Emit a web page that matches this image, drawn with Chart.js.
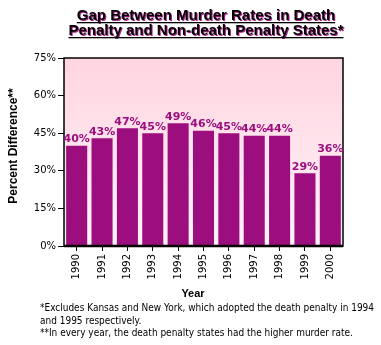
<!DOCTYPE html>
<html>
<head>
<meta charset="utf-8">
<script src="https://cdn.jsdelivr.net/npm/chart.js@4"></script>
<style>
  html, body { margin: 0; padding: 0; background: #fff; }
  #wrap { position: relative; width: 381px; height: 345px; }
</style>
</head>
<body>
<div id="wrap"><canvas id="myChart" width="381" height="345"></canvas></div>
<script>
const years = ["1990", "1991", "1992", "1993", "1994", "1995", "1996", "1997", "1998", "1999", "2000"];
const gapPercent = [40, 43, 47, 45, 49, 46, 45, 44, 44, 29, 36];
const yTicks = [0, 15, 30, 45, 60, 75];

const titleLines = ["Gap Between Murder Rates in Death", "Penalty and Non-death Penalty States*"];
const notes = [
  "*Excludes Kansas and New York, which adopted the death penalty in 1994",
  "and 1995 respectively.",
  "**In every year, the death penalty states had the higher murder rate.",
];

const barColor = "#9C0E7E";

// draw text squeezed horizontally by factor s
function squeezeText(ctx, text, x, y, s) {
  ctx.save();
  ctx.translate(x, y);
  ctx.scale(s, 1);
  ctx.fillText(text, 0, 0);
  ctx.restore();
}

// pink wash behind the bars plus the black frame
const plotBg = {
  id: "plotBg",
  beforeDatasetsDraw(chart) {
    const { ctx, chartArea: a } = chart;
    const g = ctx.createLinearGradient(0, a.top, 0, a.bottom);
    g.addColorStop(0, "#FFD5E1");
    g.addColorStop(1, "#FFF3F8");
    ctx.save();
    ctx.fillStyle = g;
    ctx.fillRect(a.left, a.top, a.right - a.left, a.bottom - a.top);
    ctx.restore();
  },
  afterDatasetsDraw(chart) {
    const { ctx, chartArea: a } = chart;
    ctx.save();
    ctx.strokeStyle = "#000";
    ctx.lineWidth = 1.5;
    ctx.strokeRect(a.left, a.top, a.right - a.left, a.bottom - a.top);
    ctx.lineWidth = 2.5;
    ctx.beginPath();
    ctx.moveTo(a.left, a.bottom);
    ctx.lineTo(a.right, a.bottom);
    ctx.stroke();
    ctx.restore();
  },
};

// value labels on top of each bar
const barLabels = {
  id: "barLabels",
  afterDatasetsDraw(chart) {
    const { ctx } = chart;
    const meta = chart.getDatasetMeta(0);
    ctx.save();
    ctx.font = "bold 11px Verdana, 'DejaVu Sans', sans-serif";
    ctx.fillStyle = barColor;
    ctx.textAlign = "center";
    ctx.textBaseline = "bottom";
    meta.data.forEach((bar, i) => {
      ctx.fillText(gapPercent[i] + "%", bar.x, bar.y - 1);
    });
    ctx.restore();
  },
};

// headline, axis titles and footnotes
const texts = {
  id: "texts",
  afterDraw(chart) {
    const { ctx } = chart;
    ctx.save();
    ctx.font = "bold 15px Arial, 'Liberation Sans', sans-serif";
    ctx.textAlign = "center";
    ctx.textBaseline = "alphabetic";
    const cx = 206;
    titleLines.forEach((t, i) => {
      const y = 20 + i * 15;
      ctx.fillStyle = "#B0208F";
      ctx.fillText(t, cx + 1, y + 1);
      ctx.fillStyle = "#000";
      ctx.fillText(t, cx, y);
      const w = ctx.measureText(t).width;
      ctx.fillRect(cx - w / 2, y + 2, w, 1.3);
    });

    ctx.font = "bold 11px Arial, 'Liberation Sans', sans-serif";
    ctx.fillText("Year", 193, 297);

    ctx.save();
    ctx.translate(17, 146);
    ctx.rotate(-Math.PI / 2);
    ctx.font = "bold 12px Arial, 'Liberation Sans', sans-serif";
    ctx.fillText("Percent Difference**", 0, 0);
    ctx.restore();

    ctx.font = "10px 'DejaVu Sans', sans-serif";
    ctx.textAlign = "left";
    const s = Math.min(1, 334 / ctx.measureText(notes[0]).width);
    notes.forEach((n, i) => squeezeText(ctx, n, 40, 311 + i * 12.5, s));
    ctx.restore();
  },
};

const ctx = document.getElementById("myChart");

new Chart(ctx, {
  type: "bar",
  data: {
    labels: years,
    datasets: [
      {
        data: gapPercent,
        backgroundColor: barColor,
        borderWidth: 0,
        barPercentage: 0.83,
        categoryPercentage: 1,
      },
    ],
  },
  options: {
    responsive: false,
    animation: false,
    devicePixelRatio: 1,
    layout: { padding: { left: 0, top: 58, right: 38, bottom: 59 } },
    plugins: {
      legend: { display: false },
      tooltip: { enabled: false },
    },
    scales: {
      x: {
        grid: { drawOnChartArea: false, tickLength: 5, tickColor: "#000", offset: false },
        border: { display: false },
        ticks: {
          minRotation: 90,
          maxRotation: 90,
          color: "#000",
          padding: 3,
          font: { family: "Verdana, 'DejaVu Sans', sans-serif", size: 10 },
        },
        afterFit(scale) { scale.height = 40; },
      },
      y: {
        min: 0,
        max: 75,
        afterBuildTicks(scale) { scale.ticks = yTicks.map((v) => ({ value: v })); },
        grid: { drawOnChartArea: false, tickLength: 6, tickColor: "#000" },
        border: { display: false },
        ticks: {
          color: "#000",
          padding: 2,
          font: { family: "Verdana, 'DejaVu Sans', sans-serif", size: 10 },
          callback: (v) => v + "%",
        },
        afterFit(scale) { scale.width = 64; },
      },
    },
  },
  plugins: [plotBg, barLabels, texts],
});
</script>
</body>
</html>
